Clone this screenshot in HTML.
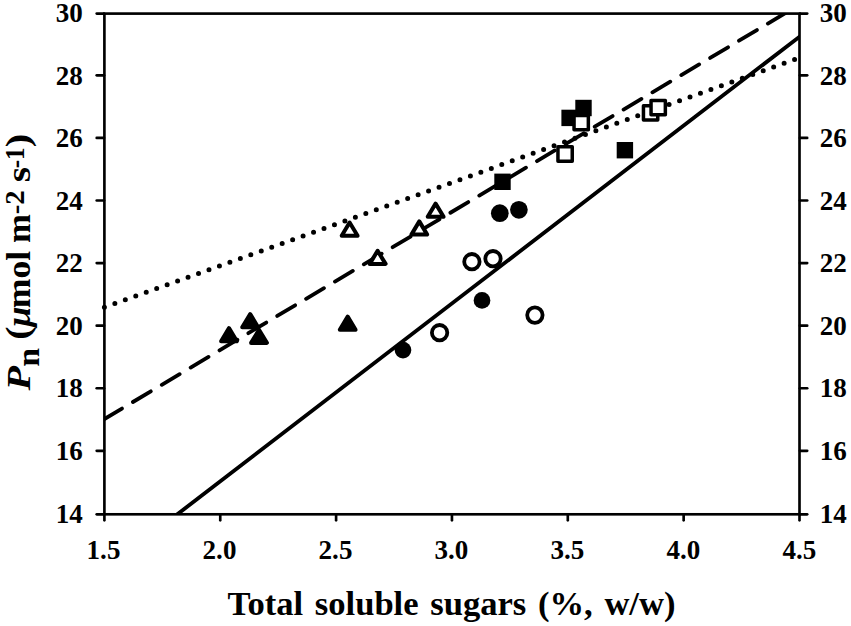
<!DOCTYPE html>
<html><head><meta charset="utf-8"><title>Pn vs total soluble sugars</title>
<style>html,body{margin:0;padding:0;background:#fff;}body{width:851px;height:626px;overflow:hidden;}svg{display:block;}text{font-family:"Liberation Serif",serif;font-weight:bold;fill:#000;}</style></head><body>
<svg width="851" height="626" viewBox="0 0 851 626">
<rect x="0" y="0" width="851" height="626" fill="#fff"/>
<defs><clipPath id="plot"><rect x="104.4" y="13.6" width="695.1" height="500.7"/></clipPath></defs>
<g fill="none" stroke="#000" stroke-linecap="round">
<line x1="104.4" y1="307.2" x2="798.5" y2="58.16" stroke-width="5.0" stroke-dasharray="0 11.11"/>
</g>
<g clip-path="url(#plot)" fill="none" stroke="#000" stroke-linecap="round">
<line x1="104.4" y1="419.0" x2="804.4" y2="1.73" stroke-width="3.8" stroke-dasharray="20.8 12.8" stroke-dashoffset="0.4"/>
<line x1="157.3" y1="529.65" x2="809.5" y2="29.02" stroke-width="3.85"/>
</g>
<g fill="none" stroke="#000" stroke-width="2.65" stroke-linecap="round">
<rect x="104.4" y="13.6" width="695.1" height="500.7" stroke-linecap="butt"/>
<line x1="96.7" y1="514.30" x2="104.0" y2="514.30"/>
<line x1="799.9" y1="514.30" x2="807.2" y2="514.30"/>
<line x1="96.7" y1="450.86" x2="104.0" y2="450.86"/>
<line x1="799.9" y1="450.86" x2="807.2" y2="450.86"/>
<line x1="96.7" y1="388.27" x2="104.0" y2="388.27"/>
<line x1="799.9" y1="388.27" x2="807.2" y2="388.27"/>
<line x1="96.7" y1="325.69" x2="104.0" y2="325.69"/>
<line x1="799.9" y1="325.69" x2="807.2" y2="325.69"/>
<line x1="96.7" y1="263.10" x2="104.0" y2="263.10"/>
<line x1="799.9" y1="263.10" x2="807.2" y2="263.10"/>
<line x1="96.7" y1="200.51" x2="104.0" y2="200.51"/>
<line x1="799.9" y1="200.51" x2="807.2" y2="200.51"/>
<line x1="96.7" y1="137.92" x2="104.0" y2="137.92"/>
<line x1="799.9" y1="137.92" x2="807.2" y2="137.92"/>
<line x1="96.7" y1="75.34" x2="104.0" y2="75.34"/>
<line x1="799.9" y1="75.34" x2="807.2" y2="75.34"/>
<line x1="96.7" y1="13.60" x2="104.0" y2="13.60"/>
<line x1="799.9" y1="13.60" x2="807.2" y2="13.60"/>
<line x1="104.40" y1="514.3" x2="104.40" y2="520.3"/>
<line x1="220.25" y1="514.3" x2="220.25" y2="520.3"/>
<line x1="336.10" y1="514.3" x2="336.10" y2="520.3"/>
<line x1="451.95" y1="514.3" x2="451.95" y2="520.3"/>
<line x1="567.80" y1="514.3" x2="567.80" y2="520.3"/>
<line x1="683.65" y1="514.3" x2="683.65" y2="520.3"/>
<line x1="799.50" y1="514.3" x2="799.50" y2="520.3"/>
</g>
<g stroke="#000" stroke-linejoin="round">
<path d="M229.0 328.1L236.9 341.2L221.1 341.2Z" fill="#000" stroke-width="4.0"/>
<path d="M250.2 314.1L258.1 327.2L242.2 327.2Z" fill="#000" stroke-width="4.0"/>
<path d="M259.0 329.8L266.9 342.9L251.1 342.9Z" fill="#000" stroke-width="4.0"/>
<path d="M347.7 316.6L355.6 329.8L339.8 329.8Z" fill="#000" stroke-width="4.0"/>
<path d="M349.6 222.5L357.6 235.7L341.7 235.7Z" fill="#fff" stroke-width="4.0"/>
<path d="M377.6 250.8L385.6 263.9L369.7 263.9Z" fill="#fff" stroke-width="4.0"/>
<path d="M419.3 221.4L427.2 234.6L411.4 234.6Z" fill="#fff" stroke-width="4.0"/>
<path d="M435.6 203.6L443.6 216.8L427.7 216.8Z" fill="#fff" stroke-width="4.0"/>
<circle cx="403.0" cy="350.1" r="8.35" fill="#000" stroke="none"/>
<circle cx="482.0" cy="300.4" r="8.35" fill="#000" stroke="none"/>
<circle cx="499.8" cy="213.2" r="8.85" fill="#000" stroke="none"/>
<circle cx="518.9" cy="209.8" r="8.85" fill="#000" stroke="none"/>
<circle cx="439.6" cy="332.7" r="7.7" fill="#fff" stroke-width="3.8"/>
<circle cx="471.9" cy="261.7" r="7.7" fill="#fff" stroke-width="3.8"/>
<circle cx="493.0" cy="258.7" r="7.7" fill="#fff" stroke-width="3.8"/>
<circle cx="534.9" cy="315.1" r="7.7" fill="#fff" stroke-width="3.8"/>
<rect x="494.3" y="173.6" width="16.4" height="16.4" fill="#000" stroke="none"/>
<rect x="561.4" y="109.7" width="16.4" height="16.4" fill="#000" stroke="none"/>
<rect x="575.3" y="99.8" width="16.4" height="16.4" fill="#000" stroke="none"/>
<rect x="616.7" y="142.0" width="16.4" height="16.4" fill="#000" stroke="none"/>
<rect x="557.95" y="146.85" width="14.3" height="14.3" fill="#fff" stroke-width="3.5"/>
<rect x="574.05" y="115.55" width="14.3" height="14.3" fill="#fff" stroke-width="3.5"/>
<rect x="643.45" y="105.65" width="14.3" height="14.3" fill="#fff" stroke-width="3.5"/>
<rect x="651.05" y="100.55" width="14.3" height="14.3" fill="#fff" stroke-width="3.5"/>
</g>
<g font-size="27.2px">
<text transform="translate(82.9 522.6) scale(0.995 1)" text-anchor="end">14</text>
<text transform="translate(819.8 522.6) scale(0.995 1)" text-anchor="start">14</text>
<text transform="translate(82.9 460.0) scale(0.995 1)" text-anchor="end">16</text>
<text transform="translate(819.8 460.0) scale(0.995 1)" text-anchor="start">16</text>
<text transform="translate(82.9 397.4) scale(0.995 1)" text-anchor="end">18</text>
<text transform="translate(819.8 397.4) scale(0.995 1)" text-anchor="start">18</text>
<text transform="translate(82.9 334.8) scale(0.995 1)" text-anchor="end">20</text>
<text transform="translate(819.8 334.8) scale(0.995 1)" text-anchor="start">20</text>
<text transform="translate(82.9 272.2) scale(0.995 1)" text-anchor="end">22</text>
<text transform="translate(819.8 272.2) scale(0.995 1)" text-anchor="start">22</text>
<text transform="translate(82.9 209.7) scale(0.995 1)" text-anchor="end">24</text>
<text transform="translate(819.8 209.7) scale(0.995 1)" text-anchor="start">24</text>
<text transform="translate(82.9 147.1) scale(0.995 1)" text-anchor="end">26</text>
<text transform="translate(819.8 147.1) scale(0.995 1)" text-anchor="start">26</text>
<text transform="translate(82.9 84.5) scale(0.995 1)" text-anchor="end">28</text>
<text transform="translate(819.8 84.5) scale(0.995 1)" text-anchor="start">28</text>
<text transform="translate(82.9 21.9) scale(0.995 1)" text-anchor="end">30</text>
<text transform="translate(819.8 21.9) scale(0.995 1)" text-anchor="start">30</text>
<text transform="translate(103.5 558.9) scale(0.995 1)" text-anchor="middle">1.5</text>
<text transform="translate(219.5 558.9) scale(0.995 1)" text-anchor="middle">2.0</text>
<text transform="translate(335.5 558.9) scale(0.995 1)" text-anchor="middle">2.5</text>
<text transform="translate(451.4 558.9) scale(0.995 1)" text-anchor="middle">3.0</text>
<text transform="translate(567.4 558.9) scale(0.995 1)" text-anchor="middle">3.5</text>
<text transform="translate(683.4 558.9) scale(0.995 1)" text-anchor="middle">4.0</text>
<text transform="translate(799.4 558.9) scale(0.995 1)" text-anchor="middle">4.5</text>
</g>
<text transform="translate(451.5 615) scale(1.017 1)" font-size="34px" word-spacing="3.0" text-anchor="middle">Total soluble sugars (%, w/w)</text>
<text transform="translate(30.3 390.60) rotate(-90) scale(1.147 0.985)" font-size="35px" font-style="italic">P</text>
<text transform="translate(39.2 366.63) rotate(-90) scale(1.057 1.0)" font-size="32px">n</text>
<text transform="translate(28.8 339.70) rotate(-90) scale(1.133 0.94)" font-size="35px">(</text>
<text transform="translate(30.3 326.84) rotate(-90) scale(1.038 0.97)" font-size="35px" font-style="italic">μ</text>
<text transform="translate(30.3 308.21) rotate(-90) scale(1.017 0.97)" font-size="35px">mol</text>
<text transform="translate(30.3 242.90) rotate(-90) scale(0.993 0.97)" font-size="35px">m</text>
<text transform="translate(23.9 214.27) rotate(-90) scale(1.07 1.0)" font-size="27px">-2</text>
<text transform="translate(30.3 182.16) rotate(-90) scale(1.126 0.97)" font-size="35px">s</text>
<text transform="translate(23.9 168.33) rotate(-90) scale(0.934 1.0)" font-size="27px">-1</text>
<text transform="translate(28.8 147.30) rotate(-90) scale(1.156 0.94)" font-size="35px">)</text>
</svg></body></html>
